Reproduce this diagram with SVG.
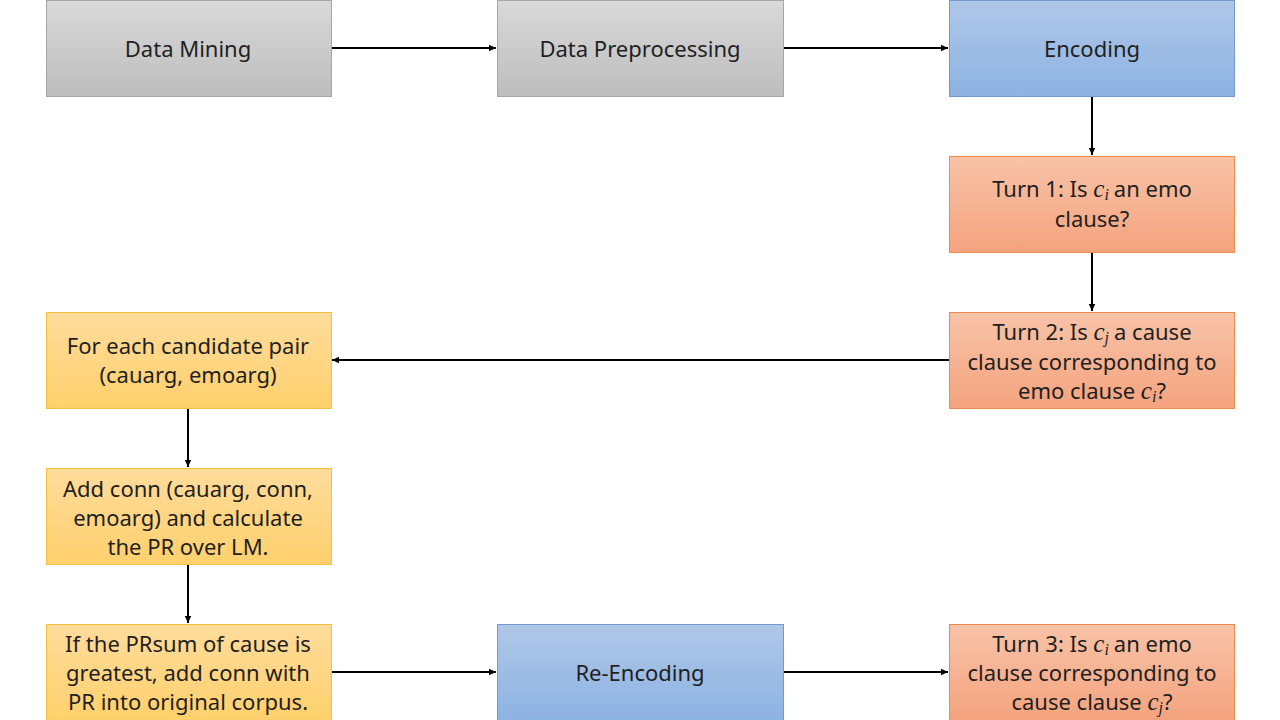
<svg xmlns="http://www.w3.org/2000/svg" width="1280" height="720" viewBox="0 0 1280 720">
<defs>
<linearGradient id="gGray" x1="0" y1="0" x2="0" y2="1"><stop offset="0" stop-color="#d9d9d9"/><stop offset="1" stop-color="#bdbdbd"/></linearGradient>
<linearGradient id="gBlue" x1="0" y1="0" x2="0" y2="1"><stop offset="0" stop-color="#afc7e8"/><stop offset="1" stop-color="#8db3e2"/></linearGradient>
<linearGradient id="gOrange" x1="0" y1="0" x2="0" y2="1"><stop offset="0" stop-color="#f8c3a8"/><stop offset="1" stop-color="#f4a37e"/></linearGradient>
<linearGradient id="gYellow" x1="0" y1="0" x2="0" y2="1"><stop offset="0" stop-color="#ffdc9c"/><stop offset="1" stop-color="#ffd06c"/></linearGradient>
<marker id="arr" markerWidth="8" markerHeight="8" refX="7" refY="4" orient="auto" markerUnits="userSpaceOnUse"><path d="M0,0.8 L7,4 L0,7.2 Z" fill="#000"/></marker>
</defs>
<style>
.gray{fill:url(#gGray);stroke:#a6a6a6;stroke-width:1}
.blue{fill:url(#gBlue);stroke:#7399cf;stroke-width:1}
.orange{fill:url(#gOrange);stroke:#ed8a4d;stroke-width:1}
.yellow{fill:url(#gYellow);stroke:#f3c23a;stroke-width:1}
text{font-family:"Noto Sans","Open Sans",sans-serif;font-size:22px;fill:#1f1f1f;text-anchor:middle}
.m{font-family:"Liberation Serif",serif;font-style:italic;font-size:25px}
.s{font-family:"Liberation Serif",serif;font-style:italic;font-size:16px}
.c{stroke:#000;stroke-width:2;fill:none;marker-end:url(#arr)}
</style>
<rect width="1280" height="720" fill="#fff"/>
<g id="connectors">
<line class="c" x1="331" y1="48" x2="496" y2="48"/>
<line class="c" x1="783" y1="48" x2="948" y2="48"/>
<line class="c" x1="1092" y1="96" x2="1092" y2="155"/>
<line class="c" x1="1092" y1="252" x2="1092" y2="311"/>
<line class="c" x1="949" y1="360" x2="332" y2="360"/>
<line class="c" x1="188" y1="408" x2="188" y2="467"/>
<line class="c" x1="188" y1="564" x2="188" y2="623"/>
<line class="c" x1="331" y1="672" x2="496" y2="672"/>
<line class="c" x1="783" y1="672" x2="948" y2="672"/>
</g>
<g id="data-mining"><rect class="gray" x="46.5" y="0.5" width="285" height="96"/><text x="188" y="57">Data Mining</text></g>
<g id="data-preprocessing"><rect class="gray" x="497.5" y="0.5" width="286" height="96"/><text x="640" y="57">Data Preprocessing</text></g>
<g id="encoding"><rect class="blue" x="949.5" y="0.5" width="285" height="96"/><text x="1092" y="57">Encoding</text></g>
<g id="turn1"><rect class="orange" x="949.5" y="156.5" width="285" height="96"/>
<text x="1092" y="197">Turn 1: Is <tspan class="m">c</tspan><tspan class="s" dy="3">i</tspan><tspan dy="-3" dx="5">an emo</tspan></text>
<text x="1092" y="227">clause?</text></g>
<g id="turn2"><rect class="orange" x="949.5" y="312.5" width="285" height="96"/>
<text x="1092" y="340">Turn 2: Is <tspan class="m">c</tspan><tspan class="s" dy="3">j</tspan><tspan dy="-3" dx="5">a cause</tspan></text>
<text x="1092" y="370">clause corresponding to</text>
<text x="1092" y="399">emo clause <tspan class="m">c</tspan><tspan class="s" dy="3">i</tspan><tspan dy="-3">?</tspan></text></g>
<g id="candidate-pair"><rect class="yellow" x="46.5" y="312.5" width="285" height="96"/>
<text x="188" y="354">For each candidate pair</text>
<text x="188" y="383">(cauarg, emoarg)</text></g>
<g id="add-conn"><rect class="yellow" x="46.5" y="468.5" width="285" height="96"/>
<text x="188" y="497">Add conn (cauarg, conn,</text>
<text x="188" y="526">emoarg) and calculate</text>
<text x="188" y="555">the PR over LM.</text></g>
<g id="prsum"><rect class="yellow" x="46.5" y="624.5" width="285" height="96"/>
<text x="188" y="652">If the PRsum of cause is</text>
<text x="188" y="681">greatest, add conn with</text>
<text x="188" y="710">PR into original corpus.</text></g>
<g id="re-encoding"><rect class="blue" x="497.5" y="624.5" width="286" height="96"/><text x="640" y="681">Re-Encoding</text></g>
<g id="turn3"><rect class="orange" x="949.5" y="624.5" width="285" height="96"/>
<text x="1092" y="652">Turn 3: Is <tspan class="m">c</tspan><tspan class="s" dy="3">i</tspan><tspan dy="-3" dx="5">an emo</tspan></text>
<text x="1092" y="681">clause corresponding to</text>
<text x="1092" y="710">cause clause <tspan class="m">c</tspan><tspan class="s" dy="3">j</tspan><tspan dy="-3">?</tspan></text></g>
</svg>
